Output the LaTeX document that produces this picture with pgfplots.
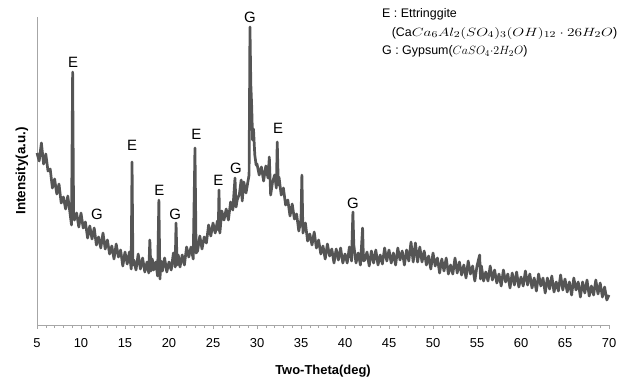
\documentclass[border=0pt]{standalone}
\usepackage{fontspec}
\setmainfont{Liberation Sans}
\usepackage{graphicx}
\usepackage{pgfplots}
\pgfplotsset{compat=1.18}
\definecolor{trace}{HTML}{555555}
\definecolor{axisgray}{HTML}{A6A6A6}
\tikzset{
  lab/.style={font=\fontsize{15}{15}\selectfont, inner sep=0pt},
  key/.style={anchor=west, inner sep=0pt, font=\fontsize{12.5}{12.5}\selectfont},
}

\begin{document}
\begin{tikzpicture}
\begin{axis}[
  name=ax,
  scale only axis, width=572bp, height=308bp,
  xmin=5, xmax=70, ymin=0, ymax=308,
  axis lines*=left,
  axis line style={axisgray, line width=0.8bp},
  xtick={5,10,...,70}, minor x tick num=4, ytick=\empty,
  tick align=outside, major tick length=4bp, minor tick length=3bp,
  every tick/.style={axisgray, line width=0.6bp},
  tick label style={font=\fontsize{13}{13}\selectfont},
  xticklabel style={yshift=-6bp},
  /pgf/number format/assume math mode=true,
  xlabel={Two-Theta(deg)},
  xlabel style={font=\fontsize{13}{13}\selectfont\bfseries, at={(axis description cs:0.5,-0.150)}, anchor=center},
  ylabel={Intensity(a.u.)},
  ylabel style={font=\fontsize{13.5}{13.5}\selectfont\bfseries, at={(axis description cs:-0.0262,0.5)}, anchor=center},
  clip=false,
]
% XRD pattern
\addplot[trace, line width=2.7bp, line join=round] coordinates {
(5.00,172) (5.25,164) (5.50,182) (5.75,161) (6.00,171) (6.25,154) (6.50,156) (6.75,137)
(7.00,146) (7.25,131) (7.50,141) (7.75,122) (8.00,128) (8.25,116) (8.50,129) (8.75,112)
(8.92,100) (9.05,253) (9.16,108) (9.25,105) (9.50,112) (9.75,98) (10.00,112) (10.25,97)
(10.50,103) (10.75,87) (11.00,99) (11.25,86) (11.50,97) (11.75,80) (12.00,88) (12.25,77)
(12.50,92) (12.75,76) (13.00,85) (13.25,71) (13.50,79) (13.75,66) (14.00,81) (14.25,68)
(14.50,75) (14.75,59) (15.00,73) (15.25,61) (15.50,73) (15.70,56) (15.80,163) (15.90,60)
(16.00,65) (16.25,55) (16.50,71) (16.75,56) (17.00,67) (17.25,53) (17.50,63) (17.70,52)
(17.82,85) (17.95,54) (18.10,66) (18.25,55) (18.50,63) (18.70,49) (18.85,125) (18.97,46)
(19.10,64) (19.25,54) (19.50,67) (19.75,53) (20.00,63) (20.25,55) (20.50,72) (20.70,58)
(20.80,102) (20.92,60) (21.05,70) (21.25,58) (21.50,70) (21.75,60) (22.00,78) (22.25,68)
(22.50,78) (22.75,66) (22.95,177) (23.08,72) (23.25,74) (23.50,89) (23.75,76) (24.00,88)
(24.25,82) (24.50,100) (24.75,89) (25.00,102) (25.25,92) (25.50,104) (25.60,95) (25.68,135)
(25.78,92) (26.00,114) (26.25,105) (26.50,116) (26.75,105) (27.00,123) (27.25,115) (27.50,147)
(27.62,118) (27.75,125) (28.00,131) (28.20,145) (28.32,124) (28.50,143) (28.75,132) (29.00,145)
(29.10,150) (29.20,298) (29.30,240) (29.40,218) (29.50,185) (29.60,196) (29.75,170) (29.90,160)
(30.00,161) (30.25,150) (30.50,158) (30.75,144) (31.00,159) (31.25,147) (31.40,168) (31.55,130)
(31.75,142) (32.00,150) (32.20,137) (32.30,183) (32.42,140) (32.50,148) (32.75,130) (33.00,137)
(33.25,120) (33.50,125) (33.75,109) (34.00,121) (34.25,106) (34.50,111) (34.75,94) (35.00,106)
(35.10,150) (35.22,92) (35.50,102) (35.75,84) (36.00,91) (36.25,80) (36.50,93) (36.75,77)
(37.00,85) (37.25,71) (37.50,79) (37.75,66) (38.00,81) (38.25,69) (38.50,76) (38.75,62)
(39.00,76) (39.25,65) (39.50,77) (39.75,62) (40.00,71) (40.25,62) (40.50,78) (40.75,64)
(40.82,90) (40.90,113) (41.00,80) (41.25,62) (41.50,72) (41.75,60) (42.00,97) (42.10,64)
(42.25,65) (42.50,73) (42.75,59) (43.00,74) (43.25,62) (43.50,75) (43.75,60) (44.00,70)
(44.25,61) (44.50,77) (44.75,64) (45.00,75) (45.25,62) (45.50,72) (45.75,60) (46.00,77)
(46.25,65) (46.50,74) (46.75,60) (47.00,75) (47.25,64) (47.50,83) (47.75,63) (48.00,82)
(48.25,63) (48.50,78) (48.75,63) (49.00,74) (49.25,60) (49.50,69) (49.75,56) (50.00,72)
(50.25,59) (50.50,67) (50.75,52) (51.00,66) (51.25,54) (51.50,67) (51.75,51) (52.00,60)
(52.25,51) (52.50,67) (52.75,52) (53.00,63) (53.25,50) (53.50,60) (53.75,47) (54.00,64)
(54.25,51) (54.50,59) (54.75,44) (55.00,59) (55.30,70) (55.40,46) (55.50,59) (55.75,44)
(56.00,53) (56.25,44) (56.50,59) (56.75,45) (57.00,55) (57.25,42) (57.50,51) (57.75,39)
(58.00,55) (58.25,43) (58.50,51) (58.75,37) (59.00,52) (59.25,40) (59.50,53) (59.75,38)
(60.00,48) (60.25,39) (60.50,54) (60.75,40) (61.00,51) (61.25,37) (61.50,47) (61.75,34)
(62.00,51) (62.25,39) (62.50,47) (62.75,32) (63.00,47) (63.25,36) (63.50,49) (63.75,33)
(64.00,43) (64.25,34) (64.50,50) (64.75,35) (65.00,46) (65.25,33) (65.50,43) (65.75,30)
(66.00,47) (66.25,35) (66.50,43) (66.75,28) (67.00,43) (67.25,32) (67.50,45) (67.75,29)
(68.00,39) (68.25,30) (68.50,45) (68.75,31) (69.00,42) (69.25,28) (69.50,38) (69.75,25)
(70.00,30)
};
% phase labels
\node[lab] at (axis cs:9.1,263) {E};
\node[lab] at (axis cs:11.8,111) {G};
\node[lab] at (axis cs:15.8,180) {E};
\node[lab] at (axis cs:18.9,135) {E};
\node[lab] at (axis cs:20.7,111) {G};
\node[lab] at (axis cs:23.1,191) {E};
\node[lab] at (axis cs:25.6,145) {E};
\node[lab] at (axis cs:27.6,157) {G};
\node[lab] at (axis cs:29.2,308) {G};
\node[lab] at (axis cs:32.4,197) {E};
\node[lab] at (axis cs:40.9,122) {G};
% key
\node[key] at (axis cs:44.2,311) {E : Ettringgite};
\node[key] at (axis cs:45.3,292) {(Ca\scalebox{1.28}[1]{$Ca_6Al_2(SO_4)_3(OH)_{12}\cdot 26H_2O$})};
\node[key] at (axis cs:44.2,274) {G : Gypsum($CaSO_4{\cdot}2H_2O$)};
\end{axis}
\pgfresetboundingbox
\path ([shift={(-37bp,-58bp)}]ax.south west) rectangle ([shift={(17bp,17bp)}]ax.north east);
\end{tikzpicture}
\end{document}
